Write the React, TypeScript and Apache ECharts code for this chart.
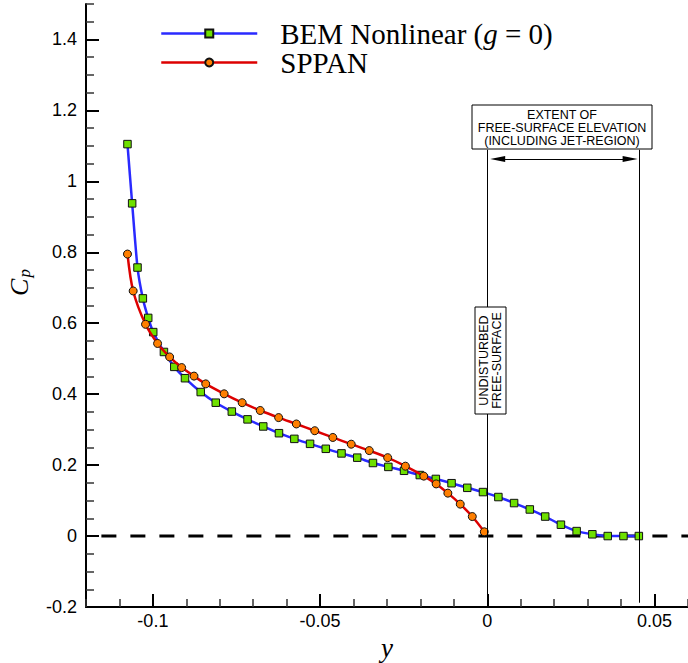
import React, { useEffect, useRef } from 'react';
import * as echarts from 'echarts';

// ---- data ----
const bemX = [-0.1076, -0.1062, -0.1046, -0.1030, -0.1014, -0.0999, -0.0967, -0.0936, -0.0904, -0.0857, -0.0812, -0.0764, -0.0717, -0.0670, -0.0623, -0.0577, -0.0530, -0.0483, -0.0436, -0.0389, -0.0342, -0.0296, -0.0249, -0.0202, -0.0154, -0.0107, -0.0060, -0.0013, 0.0033, 0.0080, 0.0127, 0.0173, 0.0220, 0.0267, 0.0314, 0.0360, 0.0407, 0.0453];
const bemY = [1.105, 0.938, 0.757, 0.670, 0.615, 0.575, 0.519, 0.477, 0.445, 0.406, 0.376, 0.351, 0.329, 0.309, 0.290, 0.274, 0.260, 0.246, 0.233, 0.221, 0.206, 0.195, 0.184, 0.172, 0.161, 0.149, 0.136, 0.124, 0.110, 0.093, 0.075, 0.055, 0.032, 0.014, 0.005, 0.000, 0.000, 0.000];

const sppanX = [-0.1076, -0.1059, -0.1022, -0.0986, -0.0950, -0.0914, -0.0877, -0.0842, -0.0787, -0.0733, -0.0679, -0.0624, -0.0571, -0.0516, -0.0462, -0.0407, -0.0353, -0.0298, -0.0245, -0.0190, -0.0153, -0.0118, -0.0081, -0.0045, -0.0009];
const sppanY = [0.795, 0.691, 0.597, 0.543, 0.505, 0.475, 0.451, 0.429, 0.401, 0.376, 0.354, 0.334, 0.316, 0.297, 0.278, 0.259, 0.241, 0.221, 0.197, 0.169, 0.147, 0.121, 0.090, 0.055, 0.012];

const xMajorTicks = [-0.1, -0.05, 0, 0.05];
const yMajorTicks = [-0.2, 0, 0.2, 0.4, 0.6, 0.8, 1, 1.2, 1.4];

const seriesNames = ['BEM Nonlinear (g = 0)', 'SPPAN'];
const zeroLineX = [-0.1154, 0.06];
const freeSurfaceX = 0;
const jetExtentX = 0.0454;
const guideTopY = 1.089;
const arrowY = 1.063;

const extentText = 'EXTENT OF\nFREE-SURFACE ELEVATION\n(INCLUDING JET-REGION)';
const undisturbedText = 'UNDISTURBED\nFREE-SURFACE';

const sansFont = '"Liberation Sans", Arial, sans-serif';
const serifFont = '"Liberation Serif", "Times New Roman", serif';

export default function App() {
  const ref = useRef<HTMLDivElement>(null);

  useEffect(() => {
    const chart = echarts.init(ref.current!, null, { renderer: 'svg' });

    const zip = (xs: number[], ys: number[]) => xs.map((x, i) => [x, ys[i]]);

    const labelStyle = {
      fontFamily: sansFont,
      fontSize: 18,
      color: '#000',
    };

    const option: any = {
      animation: false,
      backgroundColor: '#fff',
      grid: {
        left: 86,
        right: 0,
        top: 4,
        bottom: 56,
        containLabel: false,
        outerBoundsMode: 'none',
      },
      legend: {
        data: seriesNames,
        orient: 'vertical',
        left: 160,
        top: 19,
        padding: 0,
        itemGap: 0,
        itemWidth: 96,
        itemHeight: 10,
        selectedMode: false,
        lineStyle: { width: 2.5 },
        formatter: (name: string) =>
          name === seriesNames[0] ? '{r|BEM Nonlinear (}{i|g}{r| = 0)}' : '{r|SPPAN}',
        textStyle: {
          padding: [0, 0, 0, 18],
          fontFamily: serifFont,
          fontSize: 29,
          color: '#000',
          rich: {
            r: { fontFamily: serifFont, fontSize: 29, lineHeight: 26.5, color: '#000' },
            i: { fontFamily: serifFont, fontStyle: 'italic', fontSize: 29, lineHeight: 26.5, color: '#000' },
          },
        },
      },
      xAxis: [
        {
          type: 'value',
          min: -0.12,
          max: 0.06,
          interval: 0.01,
          position: 'bottom',
          axisLine: { show: true, onZero: false, lineStyle: { color: '#000', width: 2 } },
          axisTick: { show: true, inside: true, length: 8, lineStyle: { color: '#333', width: 1.5 } },
          axisLabel: { ...labelStyle, margin: 5, customValues: xMajorTicks },
          splitLine: { show: false },
          name: 'y',
          nameLocation: 'middle',
          nameGap: 24,
          nameTextStyle: { fontFamily: serifFont, fontStyle: 'italic', fontSize: 27, color: '#000' },
        },
        {
          type: 'value',
          min: -0.12,
          max: 0.06,
          position: 'bottom',
          axisLine: { show: false, onZero: false },
          axisTick: { show: true, inside: true, length: 13, customValues: xMajorTicks, lineStyle: { color: '#000', width: 2 } },
          axisLabel: { show: false },
          splitLine: { show: false },
        },
      ],
      yAxis: [
        {
          type: 'value',
          min: -0.2,
          max: 1.5,
          interval: 0.05,
          position: 'left',
          axisLine: { show: true, onZero: false, lineStyle: { color: '#000', width: 2 } },
          axisTick: { show: true, inside: true, length: 8, lineStyle: { color: '#333', width: 1.5 } },
          axisLabel: { ...labelStyle, margin: 9, customValues: yMajorTicks },
          splitLine: { show: false },
          name: '{c|C}{p|p}',
          nameLocation: 'middle',
          nameRotate: 90,
          nameGap: 53,
          nameTextStyle: {
            padding: [0, 0, 0, 46],
            rich: {
              c: { fontFamily: serifFont, fontStyle: 'italic', fontSize: 26, color: '#000' },
              p: { fontFamily: serifFont, fontStyle: 'italic', fontSize: 17, color: '#000', padding: [10, 0, 0, 1] },
            },
          },
        },
        {
          type: 'value',
          min: -0.2,
          max: 1.5,
          position: 'left',
          axisLine: { show: false, onZero: false },
          axisTick: { show: true, inside: true, length: 13, customValues: yMajorTicks, lineStyle: { color: '#000', width: 2 } },
          axisLabel: { show: false },
          splitLine: { show: false },
        },
      ],
      series: [
        {
          name: 'zero',
          type: 'line',
          xAxisIndex: 0,
          yAxisIndex: 0,
          data: zip(zeroLineX, [0, 0]),
          symbol: 'none',
          silent: true,
          z: 1,
          lineStyle: { color: '#000', width: 3, type: [15, 14] },
          markLine: {
            silent: true,
            animation: false,
            symbol: 'none',
            label: { show: false },
            lineStyle: { color: '#000', width: 1, type: 'solid' },
            itemStyle: { color: '#000' },
            data: [
              [{ coord: [freeSurfaceX, guideTopY] }, { coord: [freeSurfaceX, -0.2] }],
              [{ coord: [jetExtentX, guideTopY] }, { coord: [jetExtentX, -0.188] }],
              [
                { coord: [0.0031, arrowY], symbol: 'triangle', symbolSize: [6, 15] },
                { coord: [0.0427, arrowY], symbol: 'triangle', symbolSize: [6, 15] },
              ],
            ],
          },
        },
        {
          name: seriesNames[0],
          type: 'line',
          xAxisIndex: 0,
          yAxisIndex: 0,
          data: zip(bemX, bemY),
          smooth: 0.2,
          symbol: 'rect',
          symbolSize: 7.5,
          z: 3,
          lineStyle: { color: '#2a2aff', width: 2.5 },
          itemStyle: { color: '#6ee000', borderColor: '#111', borderWidth: 1 },
        },
        {
          name: seriesNames[1],
          type: 'line',
          xAxisIndex: 0,
          yAxisIndex: 0,
          data: zip(sppanX, sppanY),
          smooth: 0.3,
          symbol: 'circle',
          symbolSize: 8,
          z: 4,
          lineStyle: { color: '#dd0000', width: 2.5 },
          itemStyle: { color: '#ff7f00', borderColor: '#111', borderWidth: 1 },
        },
      ],
      graphic: [
        {
          type: 'rect',
          z: 100,
          shape: { x: 472, y: 105, width: 180, height: 44 },
          style: { fill: '#fff', stroke: '#000', lineWidth: 1 },
        },
        {
          type: 'text',
          z: 101,
          x: 562,
          y: 128,
          style: {
            text: extentText,
            align: 'center',
            verticalAlign: 'middle',
            fontFamily: sansFont,
            fontSize: 12.5,
            lineHeight: 13,
            fill: '#000',
          },
        },
        {
          type: 'rect',
          z: 100,
          shape: { x: 475, y: 307, width: 31, height: 107 },
          style: { fill: '#fff', stroke: '#000', lineWidth: 1 },
        },
        {
          type: 'text',
          z: 101,
          x: 490.5,
          y: 360.5,
          rotation: Math.PI / 2,
          style: {
            text: undisturbedText,
            align: 'center',
            verticalAlign: 'middle',
            fontFamily: sansFont,
            fontSize: 12.5,
            lineHeight: 13.5,
            fill: '#000',
          },
        },
      ],
    };

    chart.setOption(option);
    return () => chart.dispose();
  }, []);

  return (
    <div
      ref={ref}
      style={{ position: 'fixed', left: 0, top: 0, width: 688, height: 663, background: '#fff' }}
    />
  );
}
